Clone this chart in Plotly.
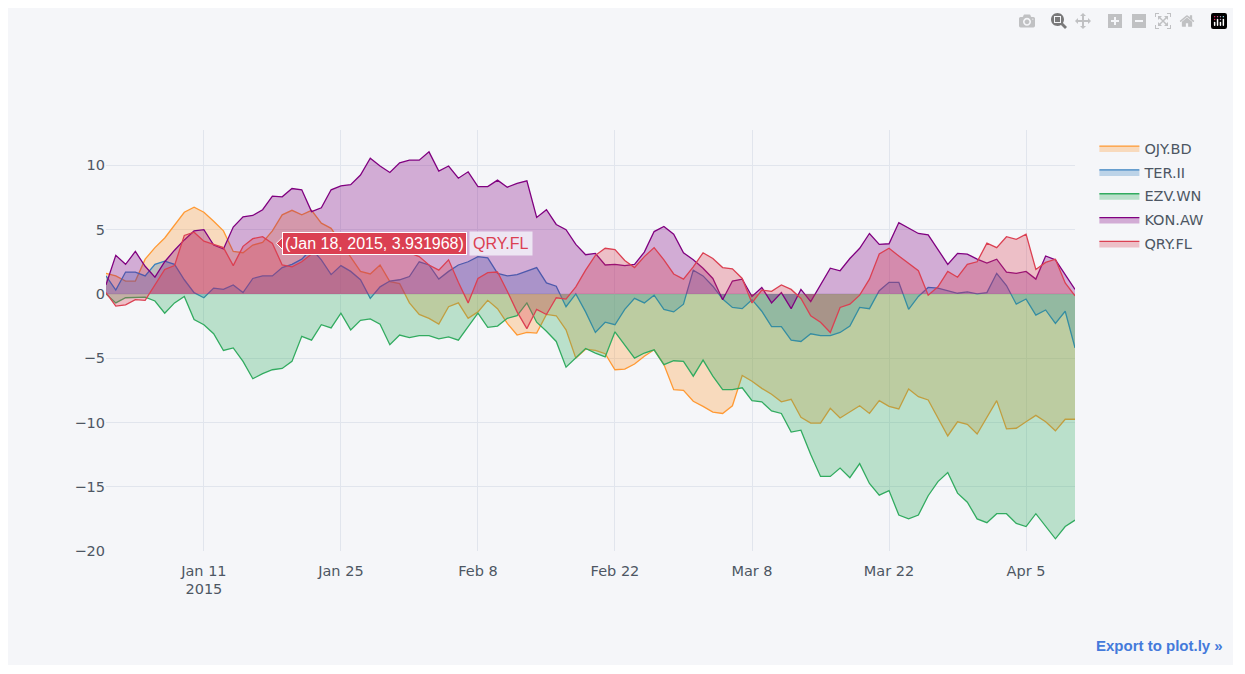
import pandas as pd
import plotly.graph_objects as go

# daily index, 100 periods from Jan 1 2015
dates = pd.date_range("2015-01-01", periods=100, freq="D")

ojy_bd = [1.6, 1.4, 1.0, 1.0, 2.7, 3.6, 4.35, 5.4, 6.35, 6.75,
          6.35, 5.65, 4.9, 3.3, 3.2, 3.8, 4.0, 4.9, 6.15, 6.5,
          6.15, 6.5, 5.5, 5.1, 4.0, 2.8, 1.75, 1.55, 2.25, 0.95,
          0.8, -0.7, -1.6, -1.9, -2.35, -1.0, -0.7, -1.9, -1.4, -0.5,
          -1.15, -2.3, -3.2, -3.0, -3.05, -1.6, -1.7, -2.8, -5.0, -4.3,
          -4.4, -4.65, -5.9, -5.85, -5.45, -4.85, -4.35, -5.5, -7.45, -7.5,
          -8.35, -8.75, -9.2, -9.3, -8.7, -6.35, -6.8, -7.35, -7.8, -8.4,
          -8.2, -9.6, -10.05, -10.05, -8.9, -9.65, -9.15, -8.7, -9.3, -8.3,
          -8.75, -8.95, -7.4, -8.0, -8.25, -9.7, -11.05, -9.95, -10.15, -10.9,
          -9.65, -8.3, -10.5, -10.45, -9.95, -9.45, -9.95, -10.65, -9.75, -9.75]

ter_ii = [1.4, 0.3, 1.7, 1.7, 1.4, 2.3, 2.55, 2.3, 1.1, 0.1,
          -0.3, 0.45, 0.35, 0.7, 0.1, 1.2, 1.4, 1.4, 2.05, 2.3,
          2.7, 3.5, 2.65, 1.5, 2.2, 1.75, 1.1, -0.35, 0.55, 1.0,
          1.1, 1.35, 2.5, 2.25, 1.15, 1.75, 2.25, 2.5, 2.9, 2.8,
          1.6, 1.4, 1.5, 1.8, 2.05, 0.85, 0.6, -1.0, 0.0, -1.4,
          -3.0, -2.2, -2.4, -1.2, -0.35, -0.7, -0.1, -1.2, -1.4, -0.8,
          1.85, 1.4, 0.6, -0.4, -1.05, -1.15, -0.45, -1.35, -2.55, -2.55,
          -3.6, -3.7, -3.1, -3.25, -3.25, -3.0, -2.5, -1.05, -1.15, 0.25,
          0.9, 0.9, -1.2, -0.2, 0.5, 0.45, 0.25, 0.05, 0.15, 0.0,
          0.1, 1.6, 0.65, -0.8, -0.4, -1.65, -1.25, -2.3, -1.35, -4.2]

ezv_wn = [0.0, -0.7, -0.3, -0.25, -0.25, -0.55, -1.5, -0.7, -0.2, -2.0,
          -2.4, -3.1, -4.4, -4.2, -5.25, -6.6, -6.2, -5.9, -5.8, -5.25,
          -3.3, -3.6, -2.4, -2.65, -1.5, -2.8, -2.05, -1.95, -2.35, -3.95,
          -3.2, -3.4, -3.25, -3.25, -3.5, -3.35, -3.6, -2.55, -1.5, -2.6,
          -2.5, -1.9, -1.7, -0.7, -2.2, -2.9, -3.7, -5.7, -5.0, -4.25,
          -4.6, -4.9, -2.95, -3.95, -5.0, -4.6, -4.35, -5.5, -5.2, -5.25,
          -6.4, -5.15, -6.4, -7.45, -7.45, -7.3, -8.3, -8.4, -9.1, -9.3,
          -10.75, -10.6, -12.5, -14.2, -14.2, -13.55, -14.3, -13.2, -14.75, -15.65,
          -15.3, -17.2, -17.5, -17.2, -15.7, -14.6, -13.9, -15.5, -16.2, -17.5,
          -17.8, -17.1, -17.1, -17.85, -18.1, -17.1, -18.1, -19.05, -18.1, -17.6]

kon_aw = [0.7, 3.0, 2.3, 3.3, 2.15, 1.3, 2.5, 3.4, 4.2, 4.9,
          5.0, 3.8, 3.5, 5.2, 6.0, 6.1, 6.55, 7.6, 7.55, 8.2,
          8.1, 6.4, 6.7, 8.1, 8.4, 8.5, 9.25, 10.55, 9.95, 9.45,
          10.2, 10.4, 10.4, 11.05, 9.55, 9.95, 9.0, 9.5, 8.35, 8.35,
          8.85, 8.3, 8.6, 8.8, 5.95, 6.55, 5.4, 5.0, 3.85, 3.05,
          3.15, 2.25, 2.3, 2.2, 2.3, 3.25, 4.85, 5.25, 4.65, 3.2,
          2.65, 2.0, 1.2, -0.45, 1.0, 1.15, -0.2, 0.5, -0.7, 0.1,
          -1.15, 0.35, -0.6, 0.7, 2.0, 1.8, 2.75, 3.55, 4.7, 3.85,
          3.9, 5.55, 5.1, 4.7, 4.6, 3.4, 2.3, 3.15, 3.1, 2.7,
          2.4, 2.7, 1.7, 1.6, 1.75, 1.15, 2.95, 2.65, 1.5, 0.35]

qry_fl = [0.1, -0.95, -0.85, -0.45, -0.5, 0.7, 1.9, 2.2, 4.55, 4.8,
          4.1, 3.85, 3.6, 2.2, 3.7, 4.3, 4.45, 3.931968, 2.25, 2.1,
          2.5, 3.1, 3.6, 4.0, 4.2, 3.8, 3.4, 3.7, 4.1, 3.8,
          3.4, 3.2, 2.9, 2.25, 1.85, 2.65, 0.9, -0.7, 1.2, 1.65,
          1.7, 0.2, -1.4, -2.7, -1.2, -1.6, -0.3, -0.4, 0.55, 1.85,
          3.0, 3.55, 3.45, 2.6, 2.05, 2.9, 3.6, 2.65, 1.55, 1.15,
          2.1, 3.2, 2.75, 2.05, 1.95, 1.2, -0.7, 0.3, 0.2, 0.7,
          0.35, -0.35, -1.7, -2.2, -3.0, -1.05, -0.8, -0.1, 1.15, 3.1,
          3.55, 2.95, 2.4, 1.8, -0.1, 0.55, 1.75, 1.3, 2.3, 2.5,
          3.95, 3.6, 4.45, 4.25, 4.65, 1.9, 2.45, 2.7, 0.85, -0.15]

names = ["OJY.BD", "TER.II", "EZV.WN", "KON.AW", "QRY.FL"]
series = [ojy_bd, ter_ii, ezv_wn, kon_aw, qry_fl]
colors = ["255, 153, 51", "55, 128, 191", "50, 171, 96", "128, 0, 128", "219, 64, 82"]

fig = go.Figure()
for name, vals, c in zip(names, series, colors):
    # one legend group per trace so tracegroupgap spaces the legend rows
    fig.add_trace(go.Scatter(x=dates, y=vals, name=name, mode="lines", legendgroup=name,
                             line=dict(color="rgba(%s, 1.0)" % c, width=1.3),
                             fill="tozeroy", fillcolor="rgba(%s, 0.3)" % c))

# fake hover label, as it was captured in the screenshot
hover_x, hover_y = dates[17], qry_fl[17]
fig.add_shape(type="path", xref="x", yref="y", xsizemode="pixel", ysizemode="pixel",
              xanchor=hover_x, yanchor=hover_y, path="M 4 0 L 11 -7 L 11 7 Z",
              fillcolor="rgb(219, 64, 82)", line=dict(color="white", width=1))
fig.add_annotation(x=hover_x, y=hover_y, text="(Jan 18, 2015, 3.931968)",
                   showarrow=False, xanchor="left", yanchor="middle", xshift=10,
                   font=dict(family="Arial", size=16, color="white"),
                   bgcolor="rgb(219, 64, 82)", bordercolor="white", borderwidth=1, borderpad=2)
fig.add_annotation(x=hover_x, y=hover_y, text="QRY.FL",
                   showarrow=False, xanchor="left", yanchor="middle", xshift=197,
                   font=dict(family="Arial", size=16, color="rgb(219, 64, 82)"),
                   bgcolor="rgba(240, 236, 246, 0.9)", borderpad=3)
fig.add_annotation(x=1, y=0, xref="paper", yref="paper", xanchor="right", yanchor="bottom",
                   text="<b>Export to plot.ly »</b>", showarrow=False, xshift=150, yshift=-105,
                   font=dict(family="Arial", size=15, color="#447adb"))

fig.update_layout(width=1225, height=657,
                  margin=dict(l=98, r=158, t=122, b=114),
                  paper_bgcolor="#F5F6F9", plot_bgcolor="#F5F6F9",
                  font=dict(family="DejaVu Sans", size=14.5, color="#4D5663"),
                  legend=dict(bgcolor="#F5F6F9", font=dict(color="#4D5663"),
                              itemwidth=40, y=0.995, traceorder="grouped", tracegroupgap=2),
                  showlegend=True)
fig.update_xaxes(gridcolor="#E1E5ED", showgrid=True, zerolinecolor="#E1E5ED",
                 ticklabelstandoff=9)
fig.update_yaxes(gridcolor="#E1E5ED", showgrid=True, zerolinecolor="#E1E5ED",
                 range=[-20, 12.75])

fig.write_html("out.html", config={"displayModeBar": True})
